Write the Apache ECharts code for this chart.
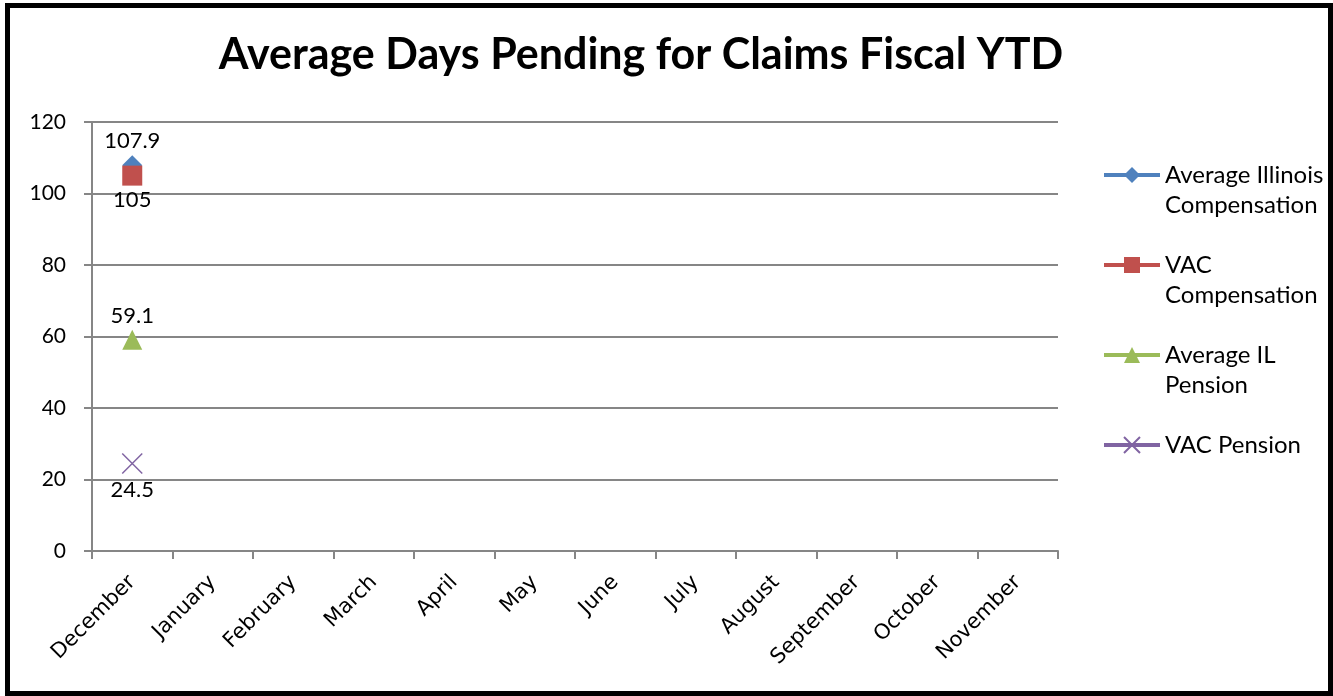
<!DOCTYPE html>
<html>
<head>
<meta charset="utf-8">
<script src="https://cdn.jsdelivr.net/npm/echarts@6/dist/echarts.min.js"></script>
<style>
  html, body { margin: 0; padding: 0; background: #fff; }
  #chart { width: 1333px; height: 696px; }
</style>
</head>
<body>
<div id="chart"></div>
<script>
// months on the x axis (fiscal year)
var months = ['December', 'January', 'February', 'March', 'April', 'May',
              'June', 'July', 'August', 'September', 'October', 'November'];

// only December has values so far
var avgIllinoisComp = [107.9];
var vacComp = [105];
var avgILPension = [59.1];
var vacPension = [24.5];

var seriesNames = ['Average Illinois Compensation', 'VAC Compensation', 'Average IL Pension', 'VAC Pension'];
// blank first line so the icon sits next to the first real line
var legendText = {
    'Average Illinois Compensation': ' \nAverage Illinois\nCompensation',
    'VAC Compensation': ' \nVAC\nCompensation',
    'Average IL Pension': ' \nAverage IL\nPension',
    'VAC Pension': ' \nVAC Pension\n '
};

var myChart = echarts.init(document.getElementById('chart'));

function makeSeries(name, data, color, symbol, size, labelPos) {
    return {
        name: name,
        type: 'line',
        data: data,
        symbol: symbol,
        symbolSize: size,
        showAllSymbol: true,
        lineStyle: { width: 4, color: color },
        itemStyle: { color: color },
        label: {
            show: true,
            position: labelPos,
            distance: 3,
            color: '#000',
            fontFamily: 'Lato',
            fontSize: 22
        }
    };
}

var option = {
    backgroundColor: '#fff',
    animation: false,
    title: {
        text: 'Average Days Pending for Claims Fiscal YTD',
        left: 636,
        textAlign: 'center',
        top: 29,
        textStyle: {
            fontFamily: 'Lato',
            fontWeight: 'bold',
            fontSize: 43,
            color: '#000'
        }
    },
    legend: {
        orient: 'vertical',
        left: 1102,
        top: 130,
        padding: 0,
        itemGap: 0,
        itemWidth: 56,
        itemHeight: 20,
        data: seriesNames,
        formatter: function (name) { return legendText[name]; },
        lineStyle: { width: 4 },
        textStyle: {
            fontFamily: 'Lato',
            fontSize: 24,
            lineHeight: 30,
            color: '#000'
        }
    },
    grid: {
        left: 92,
        right: 275,
        top: 122,
        bottom: 145,
        containLabel: false
    },
    xAxis: {
        type: 'category',
        data: months,
        boundaryGap: true,
        axisLine: { lineStyle: { color: '#868686', width: 2 } },
        axisTick: { show: true, length: 8, alignWithLabel: false, lineStyle: { color: '#868686', width: 2 } },
        axisLabel: {
            rotate: 45,
            margin: 28,
            interval: 0,
            color: '#000',
            fontFamily: 'DejaVu Sans',
            fontSize: 21
        }
    },
    yAxis: {
        type: 'value',
        min: 0,
        max: 120,
        interval: 20,
        axisLine: { show: true, lineStyle: { color: '#868686', width: 2 } },
        axisTick: { show: true, length: 8, lineStyle: { color: '#868686', width: 2 } },
        splitLine: { show: true, lineStyle: { color: '#868686', width: 2 } },
        axisLabel: {
            margin: 26,
            color: '#000',
            fontFamily: 'Lato',
            fontSize: 21
        }
    },
    graphic: [{
        type: 'rect',
        shape: { x: 7.5, y: 5.5, width: 1323, height: 688 },
        style: { fill: 'none', stroke: '#000', lineWidth: 5 },
        silent: true
    }],
    series: [
        makeSeries(seriesNames[0], avgIllinoisComp, '#4F81BD', 'diamond', 20, 'top'),
        makeSeries(seriesNames[1], vacComp, '#C0504D', 'rect', 20, 'bottom'),
        makeSeries(seriesNames[2], avgILPension, '#9BBB59', 'triangle', 20, 'top'),
        (function () {
            var s = makeSeries(seriesNames[3], vacPension, '#8064A2', 'path://M0,0L10,10M10,0L0,10', 20, 'bottom');
            s.itemStyle = { color: 'none', borderColor: '#8064A2', borderWidth: 1.5 };
            return s;
        })()
    ]
};

myChart.setOption(option);
</script>
</body>
</html>
